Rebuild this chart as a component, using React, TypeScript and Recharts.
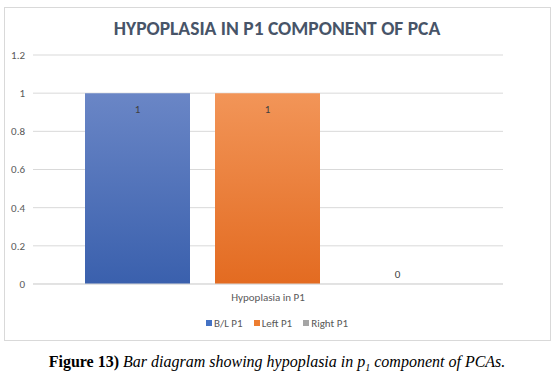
import { BarChart, Bar, XAxis, YAxis, CartesianGrid, Legend, LabelList } from "recharts";

const categories = ["Hypoplasia in P1"];
const blP1 = [1];
const leftP1 = [1];
const rightP1 = [0];
const yTicks = [0, 0.2, 0.4, 0.6, 0.8, 1, 1.2];

const seriesNames = ["B/L P1", "Left P1", "Right P1"];
const seriesColors = ["#4472c4", "#ed7d31", "#a5a5a5"];

const data = categories.map((name, i) => ({
  name,
  bl: blP1[i],
  left: leftP1[i],
  right: rightP1[i],
}));

const font = "Carlito, Calibri, 'Open Sans', sans-serif";

const LegendRow = () => (
  <div
    style={{
      height: 14,
      display: "flex",
      justifyContent: "center",
      alignItems: "center",
      fontFamily: font,
      fontSize: 11,
      color: "#595959",
    }}
  >
    {seriesNames.map((n, i) => (
      <span key={n} style={{ display: "flex", alignItems: "center", marginRight: i < 2 ? 11 : 0 }}>
        <span style={{ width: 6, height: 6, background: seriesColors[i], marginRight: 2, display: "inline-block" }} />
        {n}
      </span>
    ))}
  </div>
);

const App = () => {
  return (
    <div style={{ position: "absolute", left: 0, top: 0, width: 554, height: 375, background: "#fff" }}>
      {/* chart frame */}
      <div
        style={{
          position: "absolute",
          left: 4,
          top: 7,
          width: 545,
          height: 332,
          border: "1px solid #d9d9d9",
        }}
      />
      <div
        style={{
          position: "absolute",
          left: 0,
          top: 16,
          width: 554,
          textAlign: "center",
          fontFamily: font,
          fontWeight: 700,
          fontSize: 19.5,
          color: "#475468",
        }}
      >
        HYPOPLASIA IN P1 COMPONENT OF PCA
      </div>
      <div style={{ position: "absolute", left: 0, top: 0 }}>
        <BarChart
          width={554}
          height={340}
          data={data}
          margin={{ top: 55, right: 51, left: 5, bottom: 12 }}
          barCategoryGap={52}
          barGap={25}
        >
          <defs>
            <linearGradient id="gBlue" x1="0" y1="0" x2="0" y2="1">
              <stop offset="0%" stopColor="#6a86c6" />
              <stop offset="100%" stopColor="#3a60ad" />
            </linearGradient>
            <linearGradient id="gOrange" x1="0" y1="0" x2="0" y2="1">
              <stop offset="0%" stopColor="#f29558" />
              <stop offset="100%" stopColor="#e36b21" />
            </linearGradient>
          </defs>
          <CartesianGrid vertical={false} stroke="#d9d9d9" />
          <XAxis
            dataKey="name"
            height={30}
            axisLine={{ stroke: "#d9d9d9" }}
            tickLine={false}
            tick={{ fill: "#595959", fontSize: 11, fontFamily: font }}
            tickMargin={3}
          />
          <YAxis
            width={28}
            domain={[0, 1.2]}
            ticks={yTicks}
            axisLine={false}
            tickLine={false}
            tick={{ fill: "#595959", fontSize: 11, fontFamily: font }}
          />
          <Legend
            verticalAlign="bottom"
            wrapperStyle={{ bottom: 10, left: 0, width: 554 }}
            content={() => <LegendRow />}
          />
          <Bar dataKey="bl" name="B/L P1" fill="url(#gBlue)" isAnimationActive={false}>
            <LabelList dataKey="bl" position="insideTop" offset={12} fill="#404040" fontSize={11} fontFamily={font} />
          </Bar>
          <Bar dataKey="left" name="Left P1" fill="url(#gOrange)" isAnimationActive={false}>
            <LabelList dataKey="left" position="insideTop" offset={12} fill="#404040" fontSize={11} fontFamily={font} />
          </Bar>
          <Bar dataKey="right" name="Right P1" fill="#a5a5a5" minPointSize={0.01} isAnimationActive={false}>
            <LabelList dataKey="right" position="top" offset={6} fill="#404040" fontSize={11} fontFamily={font} />
          </Bar>
        </BarChart>
      </div>
      <div
        style={{
          position: "absolute",
          left: 0,
          top: 353,
          width: 554,
          textAlign: "center",
          fontFamily: "'Liberation Serif', serif",
          fontSize: 16,
          color: "#000",
        }}
      >
        <b>Figure 13)</b>{" "}
        <i>
          Bar diagram showing hypoplasia in p<sub style={{ fontSize: 10 }}>1</sub> component of PCAs.
        </i>
      </div>
    </div>
  );
};

export default App;
